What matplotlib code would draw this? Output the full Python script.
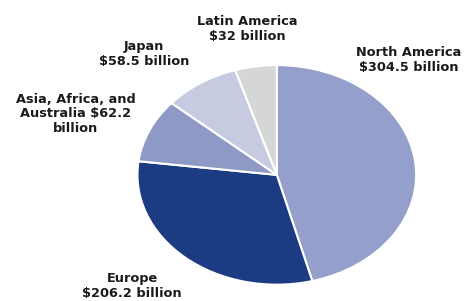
import matplotlib
matplotlib.use("Agg")
import matplotlib.pyplot as plt

regions = ["North America", "Europe", "Asia, Africa, and Australia", "Japan", "Latin America"]
values = [304.5, 206.2, 62.2, 58.5, 32.0]
label_texts = ["North America\n$304.5 billion", "Europe\n$206.2 billion",
               "Asia, Africa, and\nAustralia $62.2\nbillion", "Japan\n$58.5 billion",
               "Latin America\n$32 billion"]
colors = ["#959fcb", "#1b3b82", "#8e99c6", "#c7cbe2", "#d5d6d6"]

W, H = 466, 301
fig = plt.figure(figsize=(W / 100, H / 100), dpi=100)
ax = fig.add_axes([0.289, 0.047, 0.61, 0.744])
ax.pie(values, colors=colors, startangle=90, counterclock=False,
       wedgeprops=dict(edgecolor="white", linewidth=1.5))
ax.set_aspect("auto")
ax.set_xlim(-1.02, 1.02)
ax.set_ylim(-1.02, 1.02)
ax.axis("off")

# label centres in pixel coords (x, y from top)
label_pos = [(409, 60), (132, 286), (76, 114), (144, 54), (247, 29)]
for txt, (px, py) in zip(label_texts, label_pos):
    fig.text(px / W, 1 - py / H, txt, ha="center", va="center", fontsize=9.3,
             fontweight="bold", family="DejaVu Sans", color="#1a1a1a", linespacing=1.12)

fig.savefig("out.png", dpi=100)
